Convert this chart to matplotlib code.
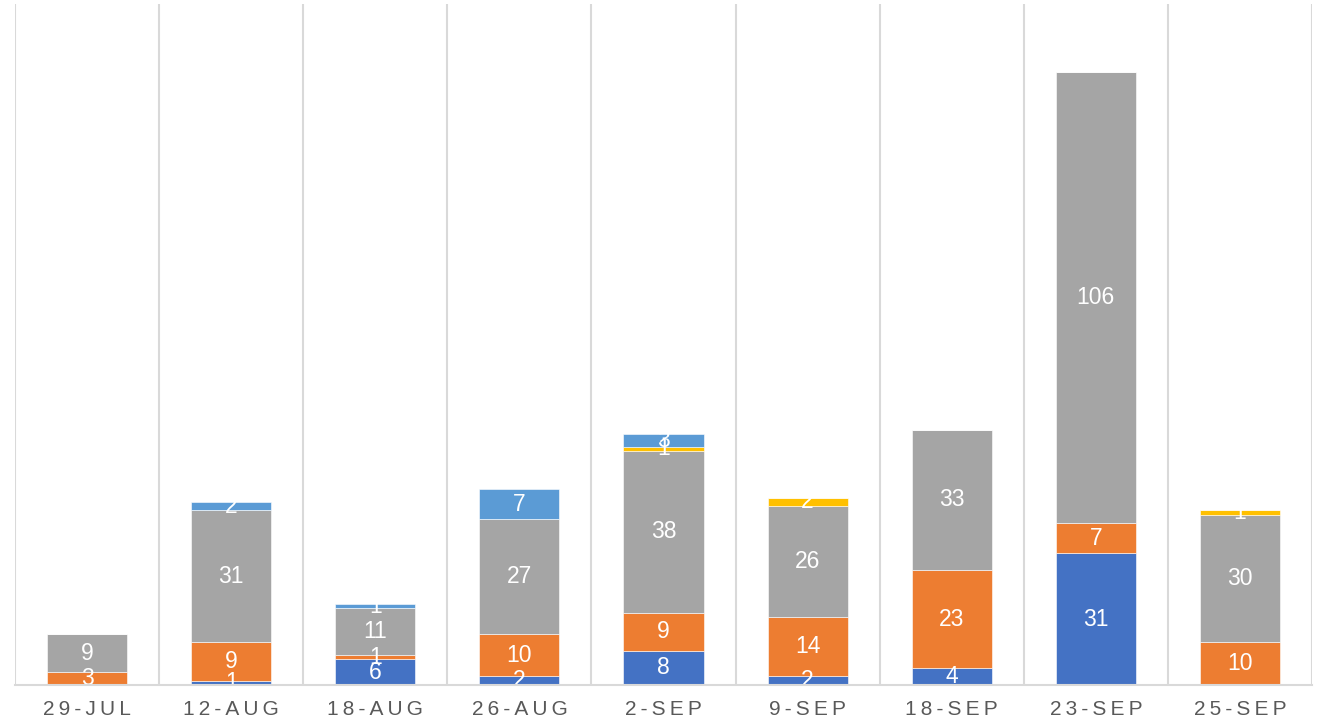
import matplotlib.pyplot as plt
import numpy as np

plt.rcParams['font.family'] = ['Liberation Sans', 'DejaVu Sans']

dates = ["29-JUL", "12-AUG", "18-AUG", "26-AUG", "2-SEP", "9-SEP", "18-SEP", "23-SEP", "25-SEP"]
serie_bleu = [0, 1, 6, 2, 8, 2, 4, 31, 0]
serie_orange = [3, 9, 1, 10, 9, 14, 23, 7, 10]
serie_gris = [9, 31, 11, 27, 38, 26, 33, 106, 30]
serie_jaune = [0, 0, 0, 0, 1, 2, 0, 0, 1]
serie_bleu_clair = [0, 2, 1, 7, 3, 0, 0, 0, 0]

series = [serie_bleu, serie_orange, serie_gris, serie_jaune, serie_bleu_clair]
couleurs = ["#4472C4", "#ED7D31", "#A5A5A5", "#FFC000", "#5B9BD5"]

fig = plt.figure(figsize=(13.26, 7.22), dpi=100)
ax = fig.add_axes([15 / 1326, 1 - 685 / 722, (1312 - 15) / 1326, (685 - 4) / 722])

x = np.arange(len(dates))
bas = np.zeros(len(dates))
for valeurs, couleur in zip(series, couleurs):
    barres = ax.bar(x, valeurs, 0.556, bottom=bas, color=couleur,
                    edgecolor="white", linewidth=0.4, zorder=3)
    for b, v in zip(barres, valeurs):
        if v == 0:
            continue
        t = ax.text(b.get_x() + b.get_width() / 2, b.get_y() + b.get_height() / 2,
                    str(v), ha="center", va="center", color="white",
                    fontsize=16.5, zorder=4)
        t.set_clip_on(True)
    bas = bas + np.array(valeurs)

# lignes de séparation verticales
for i in range(len(dates) + 1):
    ax.axvline(i - 0.5, color="#D9D9D9", linewidth=1.5, zorder=1)

ax.set_xlim(-0.5, len(dates) - 0.5)
ax.set_ylim(0, 160)
ax.set_yticks([])
ax.set_xticks(x)
ax.set_xticklabels(["\u2009".join(d) for d in dates], fontsize=15, color="#595959")
ax.tick_params(axis="x", length=0, pad=11)
for cote in ["top", "left", "right"]:
    ax.spines[cote].set_visible(False)
ax.spines["bottom"].set_color("#D9D9D9")
ax.spines["bottom"].set_linewidth(1.5)
ax.spines["bottom"].set_zorder(5)

plt.savefig("out.png", dpi=100)
